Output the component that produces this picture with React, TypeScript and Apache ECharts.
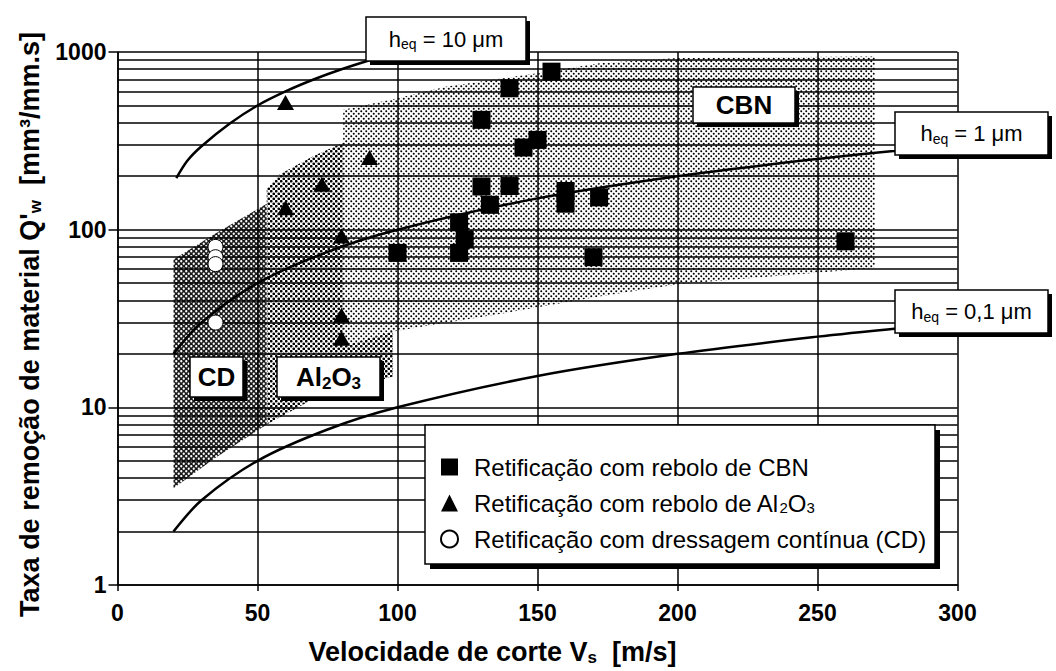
import React, { useEffect, useRef } from 'react';
import * as echarts from 'echarts';

const FONT = '"Liberation Sans", Arial, Helvetica, sans-serif';

// Axis ticks
const xTicks = [0, 50, 100, 150, 200, 250, 300];
const yTicks = [1, 10, 100, 1000];
const yMinorValues = [2, 3, 4, 5, 6, 7, 8, 9, 20, 30, 40, 50, 60, 70, 80, 90, 200, 300, 400, 500, 600, 700, 800, 900];

// Measured points (Vs [m/s], Q'w [mm3/mm.s])
const nameCBN = 'Retificação com rebolo de CBN';
const nameAl = 'Retificação com rebolo de Al2O3';
const nameCD = 'Retificação com dressagem contínua (CD)';

const cbnPoints = [
  [155, 775], [140, 625], [130, 415], [145, 290], [150, 320], [130, 175], [140, 176], [133, 138],
  [122, 110], [124, 88], [122, 74], [100, 74], [160, 165], [160, 140], [172, 152], [170, 70], [260, 86],
];
const al2o3Points = [[60, 520], [90, 255], [73, 180], [60, 133], [80, 92], [80, 33], [80, 24.5]];
const cdPoints = [[35, 80], [35, 70], [35, 64], [35, 30]];

// h_eq curves
const heq10 = [[21, 195], [25, 245], [30, 295], [40, 395], [50, 500], [60, 600], [70, 700], [80, 800], [92, 920]];
const heq1 = [[20, 20], [30, 30], [50, 50], [75, 75], [100, 100], [150, 150], [200, 200], [250, 250], [280, 280]];
const heq01 = [[20, 2], [30, 3], [50, 5], [75, 7.5], [100, 10], [150, 15], [200, 20], [250, 25], [280, 28]];

// Shaded regions (polygon outlines)
const al2o3Region = [[53.3, 8], [53.3, 170], [58, 205], [70, 260], [80.6, 308], [98.4, 335], [98.4, 14.9], [68.75, 10.9]];
const cbnRegion = [
  [80.6, 22], [80.6, 473], [100, 550], [117.6, 639], [150, 760], [172, 865], [200, 925], [270.5, 944],
  [270.5, 60.8], [201, 49.5], [172, 42], [137, 33.6], [98.4, 26.7],
];
const cdRegion = [[20, 3.5], [20, 68], [35, 95], [53.3, 140], [53.3, 8], [35, 5.2]];
const regions = [al2o3Region, cbnRegion, cdRegion];

function makePattern(bg: string, dot: string, r: number, size: number) {
  const c = document.createElement('canvas');
  c.width = size;
  c.height = size;
  const g = c.getContext('2d')!;
  g.fillStyle = bg;
  g.fillRect(0, 0, size, size);
  g.fillStyle = dot;
  const pts = [[size / 4, size / 4], [(3 * size) / 4, (3 * size) / 4]];
  for (const [x, y] of pts) {
    g.beginPath();
    g.arc(x, y, r, 0, Math.PI * 2);
    g.fill();
  }
  return { image: c, repeat: 'repeat', imageWidth: size, imageHeight: size };
}

function labelBox(x: number, y: number, w: number, h: number, text: string, base: any, rich: any) {
  return {
    type: 'group',
    z: 20,
    children: [
      { type: 'rect', z: 20, shape: { x: x + 4, y: y + 4, width: w, height: h }, style: { fill: '#000' } },
      { type: 'rect', z: 21, shape: { x, y, width: w, height: h }, style: { fill: '#fff', stroke: '#000', lineWidth: 1.5 } },
      {
        type: 'text', z: 22, x: x + w / 2, y: y + h / 2,
        style: { text, textAlign: 'center', textVerticalAlign: 'middle', fill: '#000', ...base, rich },
      },
    ],
  };
}

export default function App() {
  const ref = useRef<HTMLDivElement>(null);
  useEffect(() => {
    if (!ref.current) return;
    const chart = echarts.init(ref.current, null, { renderer: 'svg' });
    const patterns = [
      makePattern('#ffffff', '#000000', 1.35, 5),
      makePattern('#ffffff', '#000000', 1.0, 5),
      makePattern('#1a1a1a', '#ffffff', 1.15, 5),
    ];
    const heqRich = {
      h: { fontSize: 22, fontFamily: FONT, color: '#000' },
      s: { fontSize: 14, fontFamily: FONT, color: '#000', padding: [10, 0, 0, 0] },
    };
    const boldRich = {
      b: { fontSize: 26, fontFamily: FONT, fontWeight: 'bold', color: '#000' },
      bs: { fontSize: 17, fontFamily: FONT, fontWeight: 'bold', color: '#000', padding: [12, 0, 0, 0] },
    };
    const boldBase = { fontSize: 26, fontFamily: FONT, fontWeight: 'bold' };
    const normBase = { fontSize: 22, fontFamily: FONT };

    const option: any = {
      animation: false,
      backgroundColor: '#fff',
      grid: { left: 117.5, top: 52, width: 840, height: 535.5, containLabel: false },
      xAxis: {
        type: 'value', min: 0, max: 300, interval: 50, z: 1,
        axisLine: { show: true, lineStyle: { color: '#000', width: 1.5 } },
        axisTick: { show: true, length: 6, lineStyle: { color: '#000', width: 1.5 } },
        axisLabel: {
          color: '#000', fontSize: 23, fontWeight: 'bold', fontFamily: FONT, margin: 16,
          formatter: (v: number) => (xTicks.includes(v) ? String(v) : ''),
        },
        splitLine: { show: true, lineStyle: { color: '#000', width: 1.5 } },
        name: 'Velocidade de corte V{s|s}  [m/s]',
        nameLocation: 'middle', nameGap: 52,
        nameTextStyle: {
          color: '#000', fontSize: 27, fontWeight: 'bold', fontFamily: FONT, padding: [0, 90, 0, 0],
          rich: { s: { fontSize: 17, fontWeight: 'bold', fontFamily: FONT, color: '#000', padding: [12, 0, 0, 0] } },
        },
      },
      yAxis: {
        type: 'log', logBase: 10, min: 1, max: 1000, z: 1,
        axisLine: { show: true, lineStyle: { color: '#000', width: 1.5 } },
        axisTick: { show: true, length: 9, lineStyle: { color: '#000', width: 1.5 } },
        axisLabel: {
          color: '#000', fontSize: 23, fontWeight: 'bold', fontFamily: FONT, margin: 11,
          formatter: (v: number) => {
            const t = yTicks.find((k) => Math.abs(k - v) < 1e-6 * k);
            return t === undefined ? '' : String(t);
          },
        },
        splitLine: { show: true, lineStyle: { color: '#000', width: 1.5 } },
        name: "Taxa de remoção de material Q'{s|w}  [mm³/mm.s]",
        nameLocation: 'middle', nameGap: 72,
        nameTextStyle: {
          color: '#000', fontSize: 27, fontWeight: 'bold', fontFamily: FONT, padding: [0, 12, 0, 0],
          rich: { s: { fontSize: 17, fontWeight: 'bold', fontFamily: FONT, color: '#000', padding: [12, 0, 0, 0] } },
        },
      },
      legend: {
        orient: 'vertical', left: 435, top: 449, itemWidth: 17, itemHeight: 17, itemGap: 10, z: 10,
        data: [nameCBN, nameAl, nameCD],
        formatter: (name: string) => (name === nameAl ? 'Retificação com rebolo de Al{s|2}O{s|3}' : name),
        textStyle: {
          color: '#000', fontSize: 24, fontFamily: FONT, lineHeight: 26, padding: [0, 0, 0, 11],
          rich: { s: { fontSize: 15, fontFamily: FONT, color: '#000', padding: [9, 0, 0, 0] } },
        },
      },
      graphic: [
        { type: 'rect', z: 5, shape: { x: 430, y: 430, width: 510, height: 139 }, style: { fill: '#000' } },
        { type: 'rect', z: 6, shape: { x: 425, y: 425, width: 510, height: 139 }, style: { fill: '#fff', stroke: '#000', lineWidth: 1.5 } },
        labelBox(366, 17, 160, 44, '{h|h}{s|eq}{h| = 10 μm}', normBase, heqRich),
        labelBox(895, 112, 153, 43, '{h|h}{s|eq}{h| = 1 μm}', normBase, heqRich),
        labelBox(895, 290, 153, 43, '{h|h}{s|eq}{h| = 0,1 μm}', normBase, heqRich),
        labelBox(693, 87, 102, 36, 'CBN', boldBase, boldRich),
        labelBox(190, 357, 53, 40, 'CD', boldBase, boldRich),
        labelBox(277, 357, 103, 40, '{b|Al}{bs|2}{b|O}{bs|3}', boldBase, boldRich),
      ],
      series: [
        {
          type: 'custom', name: 'regioes', z: 0, silent: true,
          data: regions.map((r) => r[0]),
          encode: { x: 0, y: 1 },
          renderItem: (params: any, api: any) => {
            const poly = regions[params.dataIndex];
            return {
              type: 'polygon',
              shape: { points: poly.map((p) => api.coord(p)) },
              style: { fill: patterns[params.dataIndex], stroke: null },
            };
          },
        },
        {
          type: 'line', name: 'heq10', data: heq10, smooth: 0.3, symbol: 'none', z: 3, silent: true,
          lineStyle: { color: '#000', width: 2.5 },
        },
        {
          type: 'line', name: 'heq1', data: heq1, smooth: 0.3, symbol: 'none', z: 3, silent: true,
          lineStyle: { color: '#000', width: 2.5 },
          markLine: {
            silent: true, z: 1, symbol: ['none', 'none'], label: { show: false },
            lineStyle: { color: '#000', width: 1.5, type: 'solid' },
            emphasis: { disabled: true },
            data: yMinorValues.map((v) => ({ yAxis: v })),
          },
        },
        {
          type: 'line', name: 'heq01', data: heq01, smooth: 0.3, symbol: 'none', z: 3, silent: true,
          lineStyle: { color: '#000', width: 2.5 },
        },
        {
          type: 'scatter', name: nameCBN, data: cbnPoints, symbol: 'rect', symbolSize: 18, z: 4,
          itemStyle: { color: '#000', opacity: 1 },
        },
        {
          type: 'scatter', name: nameAl, data: al2o3Points, symbol: 'triangle', symbolSize: [17, 15], z: 4,
          itemStyle: { color: '#000', opacity: 1 },
        },
        {
          type: 'scatter', name: nameCD, data: cdPoints, symbol: 'circle', symbolSize: 15, z: 4,
          itemStyle: { color: '#fff', borderColor: '#000', borderWidth: 1, opacity: 1 },
        },
      ],
    };
    chart.setOption(option);
    return () => chart.dispose();
  }, []);
  return (
    <div
      ref={ref}
      style={{ position: 'fixed', left: 0, top: 0, width: 1056, height: 671, background: '#fff' }}
    />
  );
}
